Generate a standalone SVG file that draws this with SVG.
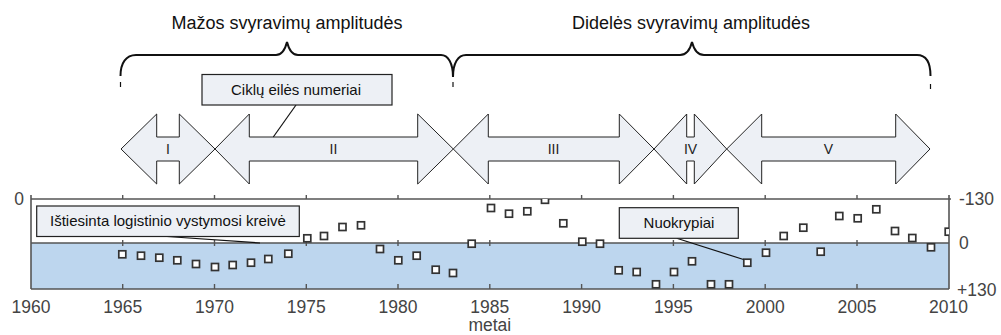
<svg xmlns="http://www.w3.org/2000/svg" width="1001" height="335" viewBox="0 0 1001 335">
<style>
.title{font-family:"Liberation Sans",Arial,sans-serif;font-size:18px;fill:#111;text-anchor:middle}
.lbl{font-family:"Liberation Sans",Arial,sans-serif;font-size:15px;fill:#111;text-anchor:middle}
.roman{font-family:"Liberation Sans",Arial,sans-serif;font-size:14px;fill:#222;text-anchor:middle}
.axis{font-family:"Liberation Sans",Arial,sans-serif;font-size:17.5px;fill:#444}
.mid{text-anchor:middle}
.brace{fill:none;stroke:#111;stroke-width:2}
.btick{stroke:#111;stroke-width:1.2}
.arrow{fill:#edf0f5;stroke:#222;stroke-width:1}
.box{fill:#edf0f5;stroke:#222;stroke-width:1.2}
.lead{stroke:#111;stroke-width:1.2;fill:none}
.grid{stroke:#555;stroke-width:1.6;fill:none}
.tick{stroke:#555;stroke-width:1.4}
.pt{fill:#fff;stroke:#333;stroke-width:1.7}
</style>
<defs>
<clipPath id="plotclip"><rect x="31" y="199" width="918" height="90"/></clipPath>
</defs>
<rect width="1001" height="335" fill="#fff"/>

<g id="titles">
<text class="title" x="287" y="29">Mažos svyravimų amplitudės</text>
<text class="title" x="691" y="29">Didelės svyravimų amplitudės</text>
</g>

<g id="braces">
<path class="brace" d="M120.5,76 C120.5,63 126,55 136,55 L276,55 C281,55 285,50 287,42 C289,50 293,55 298,55 L441,55 C448,55 453,63 453,77"/>
<path class="brace" d="M453,77 C453,63 458,55 466,55 L680,55 C686,55 690,50 692,42 C694,50 698,55 704,55 L917,55 C926,55 930.5,63 930.5,76"/>
<line class="btick" x1="120.5" y1="82" x2="120.5" y2="87"/>
<line class="btick" x1="453" y1="82" x2="453" y2="87"/>
<line class="btick" x1="930.5" y1="84" x2="930.5" y2="89"/>
</g>

<g id="plot">
<rect x="31" y="243" width="918" height="46" fill="#bdd6ee"/>
<line class="grid" x1="31" y1="199" x2="951" y2="199"/>
<line class="grid" x1="31" y1="243" x2="949" y2="243"/>
<line class="grid" x1="31" y1="289" x2="949" y2="289"/>
<line class="grid" x1="31" y1="195" x2="31" y2="289"/>
<line class="grid" x1="949" y1="195" x2="949" y2="289"/>
<g class="tick">
<line x1="122.7" y1="195" x2="122.7" y2="199"/><line x1="214.5" y1="195" x2="214.5" y2="199"/><line x1="306.3" y1="195" x2="306.3" y2="199"/><line x1="398" y1="195" x2="398" y2="199"/><line x1="489.8" y1="195" x2="489.8" y2="199"/><line x1="581.6" y1="195" x2="581.6" y2="199"/><line x1="673.4" y1="195" x2="673.4" y2="199"/><line x1="765.2" y1="195" x2="765.2" y2="199"/><line x1="857" y1="195" x2="857" y2="199"/>
<line x1="122.7" y1="240" x2="122.7" y2="246"/><line x1="214.5" y1="240" x2="214.5" y2="246"/><line x1="306.3" y1="240" x2="306.3" y2="246"/><line x1="398" y1="240" x2="398" y2="246"/><line x1="489.8" y1="240" x2="489.8" y2="246"/><line x1="581.6" y1="240" x2="581.6" y2="246"/><line x1="673.4" y1="240" x2="673.4" y2="246"/><line x1="765.2" y1="240" x2="765.2" y2="246"/><line x1="857" y1="240" x2="857" y2="246"/>
<line x1="122.7" y1="284" x2="122.7" y2="289"/><line x1="214.5" y1="284" x2="214.5" y2="289"/><line x1="306.3" y1="284" x2="306.3" y2="289"/><line x1="398" y1="284" x2="398" y2="289"/><line x1="489.8" y1="284" x2="489.8" y2="289"/><line x1="581.6" y1="284" x2="581.6" y2="289"/><line x1="673.4" y1="284" x2="673.4" y2="289"/><line x1="765.2" y1="284" x2="765.2" y2="289"/><line x1="857" y1="284" x2="857" y2="289"/>
</g>
<g id="points" clip-path="url(#plotclip)">
<rect class="pt" x="118.8" y="250.8" width="7" height="7"/>
<rect class="pt" x="137.5" y="252.2" width="7" height="7"/>
<rect class="pt" x="155.8" y="254.2" width="7" height="7"/>
<rect class="pt" x="173.8" y="256.8" width="7" height="7"/>
<rect class="pt" x="192.5" y="260.5" width="7" height="7"/>
<rect class="pt" x="211.5" y="263.5" width="7" height="7"/>
<rect class="pt" x="229.2" y="261.5" width="7" height="7"/>
<rect class="pt" x="247.5" y="259.2" width="7" height="7"/>
<rect class="pt" x="264.8" y="255.5" width="7" height="7"/>
<rect class="pt" x="284.8" y="250.2" width="7" height="7"/>
<rect class="pt" x="303.8" y="234.8" width="7" height="7"/>
<rect class="pt" x="320.5" y="232.5" width="7" height="7"/>
<rect class="pt" x="339" y="223.5" width="7" height="7"/>
<rect class="pt" x="357.5" y="221.8" width="7" height="7"/>
<rect class="pt" x="376.5" y="245.5" width="7" height="7"/>
<rect class="pt" x="394.8" y="256.8" width="7" height="7"/>
<rect class="pt" x="413.2" y="252.2" width="7" height="7"/>
<rect class="pt" x="432.2" y="266.2" width="7" height="7"/>
<rect class="pt" x="449.5" y="269.5" width="7" height="7"/>
<rect class="pt" x="468.2" y="240.2" width="7" height="7"/>
<rect class="pt" x="487.5" y="204.5" width="7" height="7"/>
<rect class="pt" x="505.5" y="210.2" width="7" height="7"/>
<rect class="pt" x="523.8" y="207.8" width="7" height="7"/>
<rect class="pt" x="541.5" y="196.3" width="7" height="7"/>
<rect class="pt" x="559.8" y="219.8" width="7" height="7"/>
<rect class="pt" x="578.8" y="238.2" width="7" height="7"/>
<rect class="pt" x="596.5" y="240.2" width="7" height="7"/>
<rect class="pt" x="615.2" y="266.8" width="7" height="7"/>
<rect class="pt" x="633.2" y="268.5" width="7" height="7"/>
<rect class="pt" x="652.5" y="280.8" width="7" height="7"/>
<rect class="pt" x="670.5" y="268.5" width="7" height="7"/>
<rect class="pt" x="688.5" y="257.8" width="7" height="7"/>
<rect class="pt" x="707.5" y="280.8" width="7" height="7"/>
<rect class="pt" x="725.5" y="280.8" width="7" height="7"/>
<rect class="pt" x="743.8" y="259.2" width="7" height="7"/>
<rect class="pt" x="762.5" y="249.2" width="7" height="7"/>
<rect class="pt" x="780.2" y="232.5" width="7" height="7"/>
<rect class="pt" x="799.8" y="224.2" width="7" height="7"/>
<rect class="pt" x="817.2" y="248.2" width="7" height="7"/>
<rect class="pt" x="835.8" y="212.5" width="7" height="7"/>
<rect class="pt" x="854.2" y="214.8" width="7" height="7"/>
<rect class="pt" x="872.8" y="205.8" width="7" height="7"/>
<rect class="pt" x="891.5" y="227.5" width="7" height="7"/>
<rect class="pt" x="908.8" y="234.5" width="7" height="7"/>
<rect class="pt" x="927.5" y="243.8" width="7" height="7"/>
<rect class="pt" x="945.2" y="228.2" width="7" height="7"/>
</g>
<g id="axis-labels">
<text class="axis mid" x="31" y="313">1960</text>
<text class="axis mid" x="122.7" y="313">1965</text>
<text class="axis mid" x="214.5" y="313">1970</text>
<text class="axis mid" x="306.3" y="313">1975</text>
<text class="axis mid" x="398" y="313">1980</text>
<text class="axis mid" x="489.8" y="313">1985</text>
<text class="axis mid" x="581.6" y="313">1990</text>
<text class="axis mid" x="673.4" y="313">1995</text>
<text class="axis mid" x="765.2" y="313">2000</text>
<text class="axis mid" x="857" y="313">2005</text>
<text class="axis mid" x="948.5" y="313">2010</text>
<text class="axis mid" x="489.8" y="331">metai</text>
<text class="axis mid" x="19" y="205">0</text>
<text class="axis" x="959" y="205">-130</text>
<text class="axis" x="959" y="249">0</text>
<text class="axis" x="957" y="296">+130</text>
</g>
</g>

<g id="arrow-I">
<path class="arrow" d="M121,149 L156.7,114 L156.7,137 L179.3,137 L179.3,114 L215,149 L179.3,184 L179.3,161 L156.7,161 L156.7,184 Z"/>
<text class="roman" x="168" y="154">I</text>
</g>
<g id="arrow-II">
<path class="arrow" d="M215,149 L249.3,114 L249.3,137 L417.7,137 L417.7,114 L453.3,149 L417.7,184 L417.7,161 L249.3,161 L249.3,184 Z"/>
<text class="roman" x="333.5" y="154">II</text>
</g>
<g id="arrow-III">
<path class="arrow" d="M453.3,149 L488.3,114 L488.3,137 L619.3,137 L619.3,114 L654,149 L619.3,184 L619.3,161 L488.3,161 L488.3,184 Z"/>
<text class="roman" x="553.5" y="154">III</text>
</g>
<g id="arrow-IV">
<path class="arrow" d="M654,149 L686.7,114 L686.7,137 L694.3,137 L694.3,114 L726.7,149 L694.3,184 L694.3,161 L686.7,161 L686.7,184 Z"/>
<text class="roman" x="690.5" y="154">IV</text>
</g>
<g id="arrow-V">
<path class="arrow" d="M726.7,149 L761.7,114 L761.7,137 L895.7,137 L895.7,114 L930,149 L895.7,184 L895.7,161 L761.7,161 L761.7,184 Z"/>
<text class="roman" x="828.5" y="154">V</text>
</g>

<g id="connectors">
<line class="lead" x1="296" y1="105" x2="273.3" y2="137"/>
<line class="lead" x1="167" y1="236.5" x2="260" y2="243"/>
<line class="lead" x1="676.7" y1="238.3" x2="743.5" y2="259.5"/>
</g>

<g id="label-cycles">
<rect class="box" x="202" y="74.5" width="190" height="30.5"/>
<text class="lbl" x="296" y="95">Ciklų eilės numeriai</text>
</g>
<g id="label-curve">
<rect class="box" x="36.7" y="206" width="262.6" height="30.5"/>
<text class="lbl" x="168" y="226">Ištiesinta logistinio vystymosi kreivė</text>
</g>
<g id="label-deviation">
<rect class="box" x="619.3" y="207.7" width="119" height="30.6"/>
<text class="lbl" x="679" y="228">Nuokrypiai</text>
</g>
</svg>
